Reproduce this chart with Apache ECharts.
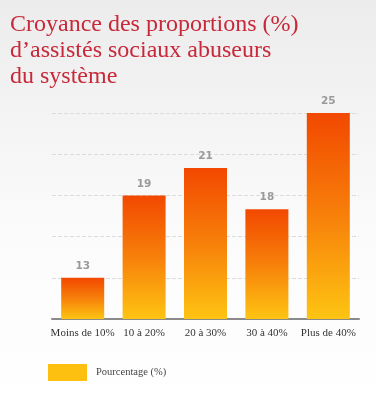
<!DOCTYPE html>
<html>
<head>
<meta charset="utf-8">
<script src="https://cdn.jsdelivr.net/npm/echarts@6/dist/echarts.min.js"></script>
<style>
  html, body { margin: 0; padding: 0; }
  #chart { width: 376px; height: 418px; }
</style>
</head>
<body>
<div id="chart"></div>
<script>
// catégories et valeurs
const categories = ["Moins de 10%", "10 à 20%", "20 à 30%", "30 à 40%", "Plus de 40%"]
const values = [13, 19, 21, 18, 25]
const seriesName = "Pourcentage (%)"
const titleLines = ["Croyance des proportions (%)", "d\u2019assistés sociaux abuseurs", "du système"]

const serif = "'Liberation Serif', 'DejaVu Serif', serif"

let chart = echarts.init(document.getElementById("chart"))
let option = {
  backgroundColor: new echarts.graphic.LinearGradient(0, 0, 0, 1, [
    { offset: 0, color: "#ececec" },
    { offset: 0.55, color: "#fbfbfb" },
    { offset: 1, color: "#ffffff" }
  ]),
  title: {
    text: titleLines.join("\n"),
    left: 5,
    top: 7,
    textStyle: {
      fontFamily: serif,
      fontWeight: "normal",
      fontSize: 24,
      lineHeight: 26,
      color: "#c7283a"
    }
  },
  legend: {
    left: 43,
    top: 359,
    itemWidth: 39,
    itemHeight: 17,
    icon: "rect",
    data: [{ name: seriesName, itemStyle: { color: "#fdc010" } }],
    textStyle: {
      fontFamily: serif,
      fontSize: 10.5,
      color: "#444",
      padding: [4, 0, 0, 4]
    }
  },
  grid: {
    left: 52,
    right: 17,
    top: 113,
    bottom: 99
  },
  xAxis: {
    type: "category",
    data: categories,
    axisTick: { show: false },
    axisLine: {
      lineStyle: { color: "#8a8a8a", width: 2 }
    },
    axisLabel: {
      fontFamily: serif,
      fontSize: 11,
      color: "#333",
      margin: 9,
      interval: 0
    }
  },
  yAxis: {
    type: "value",
    min: 10,
    max: 25,
    interval: 3,
    axisLabel: { show: false },
    axisLine: { show: false },
    axisTick: { show: false },
    splitLine: {
      lineStyle: { color: "#dcdcdc", type: "dashed" }
    }
  },
  series: [
    {
      name: seriesName,
      type: "bar",
      data: values,
      barWidth: 43,
      itemStyle: {
        color: new echarts.graphic.LinearGradient(0, 0, 0, 1, [
          { offset: 0, color: "#f24800" },
          { offset: 0.5, color: "#f7800a" },
          { offset: 1, color: "#fec412" }
        ])
      },
      label: {
        show: true,
        position: "top",
        distance: 6,
        fontFamily: "'DejaVu Sans', sans-serif",
        fontWeight: "bold",
        fontSize: 10.5,
        color: "#9a9a9a"
      }
    }
  ]
}
chart.setOption(option)
</script>
</body>
</html>
